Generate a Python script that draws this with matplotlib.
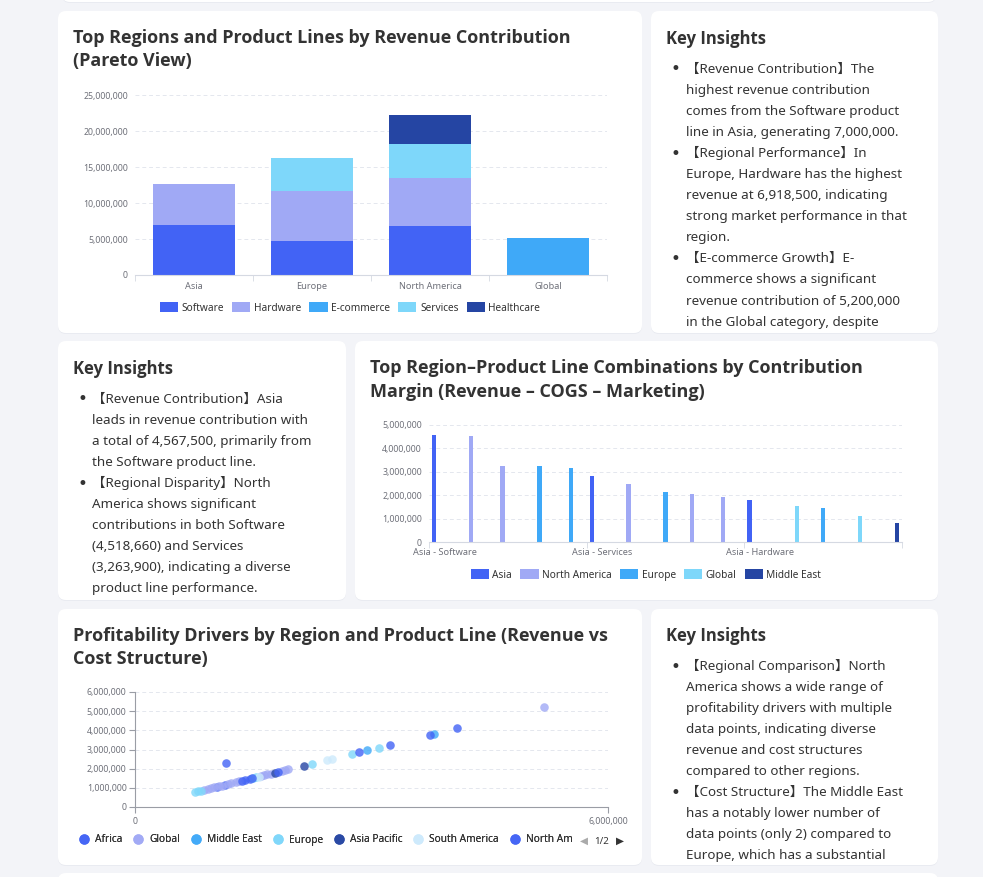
import numpy as np
import matplotlib.pyplot as plt
from matplotlib.patches import FancyBboxPatch
from matplotlib.ticker import FuncFormatter
from matplotlib.lines import Line2D

plt.rcParams['font.family'] = ['Noto Sans', 'Noto Sans CJK SC', 'DejaVu Sans']

### ===== dados ===== ###

# grafico 1 - receita por regiao e linha de produto
regions = ["Asia", "Europe", "North America", "Global"]
product_lines = ["Software", "Hardware", "E-commerce", "Services", "Healthcare"]
software_rev = [7000000, 4750000, 6850000, 0]
hardware_rev = [5700000, 6918500, 6680000, 0]
ecommerce_rev = [0, 0, 0, 5200000]
services_rev = [0, 4570000, 4620000, 0]
healthcare_rev = [0, 0, 4120000, 0]

# grafico 2 - margem de contribuicao por combinacao
combo_labels = [
    "Asia - Software", "North America - Software", "North America - Services",
    "Europe - Hardware", "Europe - Software", "Asia - Services",
    "North America - Hardware", "Europe - Services", "North America - Healthcare",
    "North America - E-commerce", "Asia - Hardware", "Global - E-commerce",
    "Europe - E-commerce", "Global - Services", "Middle East - Software",
]
combo_region = [
    "Asia", "North America", "North America", "Europe", "Europe", "Asia",
    "North America", "Europe", "North America", "North America", "Asia",
    "Global", "Europe", "Global", "Middle East",
]
combo_margin = [
    4567500, 4518660, 3263900, 3250000, 3160000, 2800000, 2460000, 2140000,
    2050000, 1920000, 1800000, 1530000, 1450000, 1120000, 820000,
]
margin_regions = ["Asia", "North America", "Europe", "Global", "Middle East"]

# grafico 3 - receita x custo (em milhoes)
scatter_series = ["Africa", "Global", "Middle East", "Europe", "Asia Pacific",
                  "South America", "North America"]
africa_rev = [1.04, 1.14, 1.40, 1.46]
africa_cost = [1.06, 1.16, 1.42, 1.48]
global_rev = [0.88, 0.92, 0.96, 1.00, 1.06, 1.10, 1.18, 1.22, 1.28, 1.32,
              1.60, 1.64, 1.68, 1.72, 1.86, 1.90, 1.94, 5.19]
global_cost = [0.90, 0.94, 0.98, 1.02, 1.08, 1.12, 1.20, 1.24, 1.30, 1.34,
               1.62, 1.66, 1.70, 1.74, 1.88, 1.92, 1.96, 5.22]
mideast_rev = [2.94, 3.79]
mideast_cost = [2.96, 3.83]
europe_rev = [0.76, 0.80, 0.84, 1.50, 1.54, 2.25, 2.75, 3.09]
europe_cost = [0.78, 0.82, 0.86, 1.52, 1.56, 2.24, 2.75, 3.10]
apac_rev = [1.78, 2.15]
apac_cost = [1.79, 2.14]
samerica_rev = [1.57, 2.44, 2.50]
samerica_cost = [1.58, 2.45, 2.52]
namerica_rev = [1.15, 1.36, 1.49, 1.82, 2.84, 3.24, 3.74, 4.09]
namerica_cost = [2.30, 1.38, 1.50, 1.83, 2.85, 3.23, 3.76, 4.10]

insights_top = [
    ["【Revenue Contribution】The", "highest revenue contribution",
     "comes from the Software product", "line in Asia, generating 7,000,000."],
    ["【Regional Performance】In", "Europe, Hardware has the highest",
     "revenue at 6,918,500, indicating", "strong market performance in that", "region."],
    ["【E-commerce Growth】E-", "commerce shows a significant",
     "revenue contribution of 5,200,000", "in the Global category, despite"],
]
insights_mid = [
    ["【Revenue Contribution】Asia", "leads in revenue contribution with",
     "a total of 4,567,500, primarily from", "the Software product line."],
    ["【Regional Disparity】North", "America shows significant",
     "contributions in both Software", "(4,518,660) and Services",
     "(3,263,900), indicating a diverse", "product line performance."],
]
insights_bot = [
    ["【Regional Comparison】North", "America shows a wide range of",
     "profitability drivers with multiple", "data points, indicating diverse",
     "revenue and cost structures", "compared to other regions."],
    ["【Cost Structure】The Middle East", "has a notably lower number of",
     "data points (only 2) compared to", "Europe, which has a substantial"],
]

### ===== estilo ===== ###

W, H = 983, 877
BG = "#f3f4f8"
TXT = "#333333"
AX_TXT = "#6e7079"
GRID = "#e4e7ee"
PALETTE = ["#4263f5", "#a0a9f5", "#3fa9f8", "#7ed7fa", "#2545a3", "#cdeafc", "#4263f5"]
BOLD_FONT = ["Open Sans", "Noto Sans CJK SC", "DejaVu Sans"]

fmt = FuncFormatter(lambda v, p: f"{int(round(v)):,}")

fig = plt.figure(figsize=(W / 100, H / 100), dpi=100, facecolor=BG)
bg = fig.add_axes([0, 0, 1, 1])
bg.set_xlim(0, W)
bg.set_ylim(H, 0)
bg.axis("off")


def px_axes(x0, y0, x1, y1):
    return fig.add_axes([x0 / W, 1 - y1 / H, (x1 - x0) / W, (y1 - y0) / H])


def card(x0, y0, x1, y1):
    bg.add_patch(FancyBboxPatch((x0, y0 + 1), x1 - x0, y1 - y0, boxstyle="round,pad=0,rounding_size=8",
                                fc="#e9ebf1", ec="none", zorder=0))
    p = FancyBboxPatch((x0, y0), x1 - x0, y1 - y0, boxstyle="round,pad=0,rounding_size=8",
                       fc="white", ec="none", zorder=1)
    bg.add_patch(p)
    return p


def insights(x_left, y_title, bullets, patch):
    bg.text(x_left, y_title + 1, "Key Insights", fontsize=12, weight="bold", family=BOLD_FONT,
            color=TXT, va="center", zorder=3)
    y = y_title + 30.5
    for lines in bullets:
        bg.text(x_left + 9, y + 1, "•", fontsize=12, color=TXT, va="center", ha="center",
                family="DejaVu Sans", zorder=3)
        for ln in lines:
            t = bg.text(x_left + 19.5, y + 0.5, ln, fontsize=9.7, color=TXT, va="center", zorder=3)
            t.set_clip_path(patch)
            y += 21.1


def style_value_axis(ax):
    ax.yaxis.set_major_formatter(fmt)
    ax.tick_params(axis="y", length=0, labelsize=6.3, labelcolor=AX_TXT, pad=5)
    ax.grid(axis="y", color=GRID, linestyle=(0, (4, 3)), linewidth=0.7)
    ax.set_axisbelow(True)
    for s in ["left", "right", "top"]:
        ax.spines[s].set_visible(False)
    ax.spines["bottom"].set_color("#d5d9e2")
    ax.set_facecolor("none")


def add_legend(handles, labels, anchor, loc="center", **kw):
    opts = dict(loc=loc, bbox_to_anchor=anchor, bbox_transform=bg.transData,
                ncol=len(labels), frameon=False, fontsize=7.3, labelcolor=TXT,
                handletextpad=0.35, columnspacing=0.8)
    opts.update(kw)
    leg = bg.legend(handles, labels, **opts)
    bg.add_artist(leg)
    return leg


# cartoes
card(62, -20, 936, 2)
c1 = card(58, 11, 642, 333)
c2 = card(651, 11, 938, 333)
c3 = card(58, 341, 346, 600)
c4 = card(355, 341, 938, 600)
c5 = card(58, 609, 642, 865)
c6 = card(651, 609, 938, 865)
card(58, 873, 938, 900)

# titulos
title_kw = dict(fontsize=13, weight="bold", family=BOLD_FONT, color=TXT, va="center", zorder=3)
bg.text(73, 38, "Top Regions and Product Lines by Revenue Contribution", **title_kw)
bg.text(73, 61, "(Pareto View)", **title_kw)
bg.text(370, 368, "Top Region–Product Line Combinations by Contribution", **title_kw)
bg.text(370, 392, "Margin (Revenue – COGS – Marketing)", **title_kw)
bg.text(73, 636, "Profitability Drivers by Region and Product Line (Revenue vs", **title_kw)
bg.text(73, 659, "Cost Structure)", **title_kw)

insights(666, 38, insights_top, c2)
insights(73, 368, insights_mid, c3)
insights(666, 635, insights_bot, c6)

### ===== grafico 1: barras empilhadas ===== ###
ax1 = px_axes(135, 95, 607, 275)
x = np.arange(len(regions))
bottom = np.zeros(len(regions))
handles1 = []
for name, vals, col in zip(product_lines,
                           [software_rev, hardware_rev, ecommerce_rev, services_rev, healthcare_rev],
                           PALETTE):
    v = np.array(vals, dtype=float)
    b = ax1.bar(x, v, 0.69, bottom=bottom, color=col, label=name, zorder=2)
    handles1.append(b)
    bottom += v
ax1.set_xlim(-0.5, len(regions) - 0.5)
ax1.set_ylim(0, 25e6)
ax1.set_yticks(np.arange(0, 25e6 + 1, 5e6))
style_value_axis(ax1)
ax1.set_xticks(x)
ax1.set_xticklabels(regions)
ax1.set_xticks(np.arange(-0.5, len(regions)), minor=True)
ax1.tick_params(axis="x", which="major", length=0, labelsize=6.6, labelcolor=AX_TXT, pad=5)
ax1.tick_params(axis="x", which="minor", length=4, color="#d5d9e2")

add_legend(handles1, product_lines, (350, 308), handlelength=1.8, handleheight=1.1)

### ===== grafico 2: barras agrupadas ===== ###
ax2 = px_axes(429, 425, 902, 542)
n = len(combo_labels)
handles2 = []
for k, reg in enumerate(margin_regions):
    idx = [i for i, r in enumerate(combo_region) if r == reg]
    vals = [combo_margin[i] for i in idx]
    b = ax2.bar(np.array(idx) + (k - 2) * 0.168, vals, 0.14, color=PALETTE[k], label=reg, zorder=2)
    handles2.append(b)
ax2.set_xlim(-0.5, n - 0.5)
ax2.set_ylim(0, 5e6)
ax2.set_yticks(np.arange(0, 5e6 + 1, 1e6))
style_value_axis(ax2)
ax2.set_xticks(range(0, n, 5))
ax2.set_xticklabels(combo_labels[::5])
ax2.set_xticks(np.arange(-0.5, n, 5), minor=True)
ax2.tick_params(axis="x", which="major", length=0, labelsize=6.6, labelcolor=AX_TXT, pad=4)
ax2.tick_params(axis="x", which="minor", length=4, color="#d5d9e2")

add_legend(handles2, margin_regions, (646, 575), handlelength=1.8, handleheight=1.1)

### ===== grafico 3: dispersao ===== ###
ax3 = px_axes(135, 692, 608, 807)
scatter_data = [
    (africa_rev, africa_cost), (global_rev, global_cost), (mideast_rev, mideast_cost),
    (europe_rev, europe_cost), (apac_rev, apac_cost), (samerica_rev, samerica_cost),
    (namerica_rev, namerica_cost),
]
for k, (name, (rv, cs)) in enumerate(zip(scatter_series, scatter_data)):
    ax3.scatter(np.array(rv) * 1e6, np.array(cs) * 1e6, s=38, color=PALETTE[k],
                alpha=0.8, linewidths=0, zorder=3, label=name)
ax3.set_xlim(0, 6e6)
ax3.set_ylim(0, 6e6)
ax3.set_xticks([0, 6e6])
ax3.set_yticks(np.arange(0, 6e6 + 1, 1e6))
ax3.xaxis.set_major_formatter(fmt)
ax3.yaxis.set_major_formatter(fmt)
ax3.grid(True, color=GRID, linestyle=(0, (4, 3)), linewidth=0.7)
ax3.set_axisbelow(True)
for s in ["right", "top"]:
    ax3.spines[s].set_visible(False)
for s in ["left", "bottom"]:
    ax3.spines[s].set_color("#9a9da5")
ax3.tick_params(length=4, color="#9a9da5", labelsize=6.3, labelcolor=AX_TXT)
ax3.tick_params(axis="y", pad=2)
ax3.tick_params(axis="x", pad=3)
ax3.set_facecolor("none")

handles3 = [Line2D([], [], marker="o", linestyle="none", markersize=7.5,
                   markerfacecolor=PALETTE[k], markeredgecolor="none", alpha=0.85)
            for k in range(len(scatter_series))]
labels3 = scatter_series[:-1] + ["North Am"]
add_legend(handles3, labels3, (70, 840), loc="center left",
           handlelength=1.0, handletextpad=0.6, columnspacing=1.05)
bg.text(584, 841, "◀", fontsize=7.5, color="#aaaaaa", ha="center", va="center", family="DejaVu Sans")
bg.text(602, 841, "1/2", fontsize=7, color=TXT, ha="center", va="center")
bg.text(620, 841, "▶", fontsize=7.5, color="#333333", ha="center", va="center", family="DejaVu Sans")

fig.savefig("out.png", dpi=100, facecolor=BG)
